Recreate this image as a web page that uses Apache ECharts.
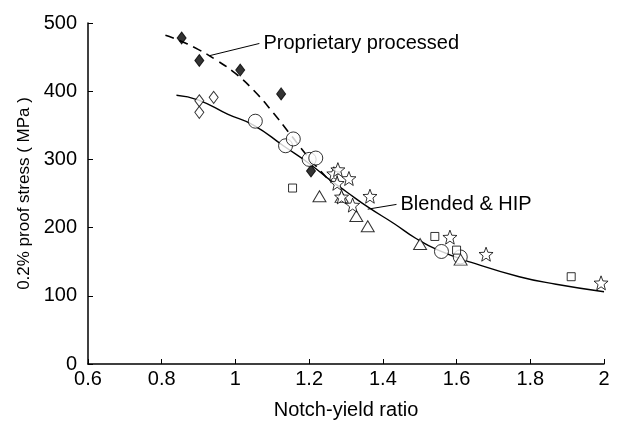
<!DOCTYPE html>
<html>
<head>
<meta charset="utf-8">
<script src="https://cdn.jsdelivr.net/npm/echarts@6/dist/echarts.min.js"></script>
<style>
  html, body { margin: 0; padding: 0; background: #fff; }
  #main { width: 618px; height: 421px; }
</style>
</head>
<body>
<div id="main"></div>
<script>
// points: [notch-yield ratio, 0.2% proof stress MPa]
const proprietary = [[0.854, 478], [0.902, 445], [1.013, 431], [1.124, 396], [1.205, 283]]
const hipDiamond = [[0.902, 386], [0.902, 369], [0.941, 391]]
const hipCircle = [[1.054, 356], [1.136, 320], [1.157, 330], [1.200, 300], [1.218, 302], [1.559, 165], [1.61, 157]]
const hipSquare = [[1.155, 258], [1.541, 187], [1.600, 167], [1.911, 128]]
const hipTriangle = [[1.228, 246], [1.288, 245], [1.328, 217], [1.359, 202], [1.501, 176], [1.611, 153]]
const hipStar = [[1.267, 279], [1.278, 285], [1.308, 272], [1.276, 265], [1.288, 245], [1.318, 233], [1.365, 246], [1.582, 186], [1.68, 161], [1.992, 119]]

// trend curves
const proprietaryFit = [[0.81, 482], [0.85, 474], [0.9, 461], [0.95, 445], [1.0, 426], [1.05, 401], [1.1, 370], [1.15, 336], [1.2, 302], [1.26, 266]]
const hipFit = [[0.84, 394], [0.9, 387], [0.98, 366], [1.05, 350], [1.13, 320], [1.2, 294], [1.256, 270], [1.3, 253], [1.36, 230], [1.43, 206], [1.49, 184], [1.55, 167], [1.64, 149], [1.77, 128], [1.87, 117], [2.0, 106]]

// annotation leaders
const propLeader = [[0.929, 452], [1.065, 470]]
const hipLeader = [[1.359, 227], [1.437, 234]]

const starPath = 'path://M12,1 L14.9,8.6 L23,9 L16.7,14.1 L18.8,22 L12,17.5 L5.2,22 L7.3,14.1 L1,9 L9.1,8.6 Z'
const font = 'Liberation Sans'

let myChart = echarts.init(document.getElementById('main'))

function pts (data, symbol, size, fill) {
  return {
    type: 'scatter',
    data: data,
    symbol: symbol,
    symbolSize: size,
    z: 5,
    itemStyle: { color: fill, borderColor: '#000', borderWidth: 1 }
  }
}

function note (leader, text) {
  return {
    type: 'line',
    data: leader,
    symbol: 'none',
    lineStyle: { color: '#000', width: 1 },
    markPoint: {
      symbol: 'circle',
      symbolSize: 0,
      data: [{ coord: leader[1] }],
      label: {
        show: true,
        position: 'right',
        distance: 4,
        formatter: text,
        color: '#000',
        fontFamily: font,
        fontSize: 20
      }
    }
  }
}

myChart.setOption({
  animation: false,
  grid: { left: 88, right: 14, top: 23, bottom: 57, outerBoundsMode: 'none' },
  xAxis: {
    type: 'value',
    min: 0.6,
    max: 2,
    interval: 0.2,
    name: 'Notch-yield ratio',
    nameLocation: 'middle',
    nameGap: 36,
    nameTextStyle: { color: '#000', fontFamily: font, fontSize: 20 },
    axisLine: { lineStyle: { color: '#000', width: 1.5 } },
    axisTick: { inside: true, length: 5, lineStyle: { color: '#000' } },
    axisLabel: { color: '#000', fontFamily: font, fontSize: 20, margin: 5 },
    splitLine: { show: false }
  },
  yAxis: {
    type: 'value',
    min: 0,
    max: 500,
    interval: 100,
    name: '0.2% proof stress ( MPa )',
    nameLocation: 'middle',
    nameGap: 53,
    nameTextStyle: { color: '#000', fontFamily: font, fontSize: 17 },
    axisLine: { show: true, lineStyle: { color: '#000', width: 1.5 } },
    axisTick: { show: true, inside: true, length: 5, lineStyle: { color: '#000' } },
    axisLabel: { color: '#000', fontFamily: font, fontSize: 20, margin: 11 },
    splitLine: { show: false }
  },
  series: [
    {
      type: 'line',
      data: proprietaryFit,
      smooth: true,
      symbol: 'none',
      lineStyle: { color: '#000', width: 1.6, type: [9, 6] }
    },
    {
      type: 'line',
      data: hipFit,
      smooth: true,
      symbol: 'none',
      lineStyle: { color: '#000', width: 1.4 }
    },
    note(propLeader, 'Proprietary processed'),
    note(hipLeader, 'Blended & HIP'),
    pts(proprietary, 'diamond', [9, 12], '#000'),
    pts(hipDiamond, 'diamond', [9, 12], '#fff'),
    pts(hipCircle, 'circle', 14, '#fff'),
    pts(hipSquare, 'rect', 8, '#fff'),
    pts(hipTriangle, 'triangle', [13, 11], '#fff'),
    pts(hipStar, starPath, 14, '#fff')
  ]
})
</script>
</body>
</html>
